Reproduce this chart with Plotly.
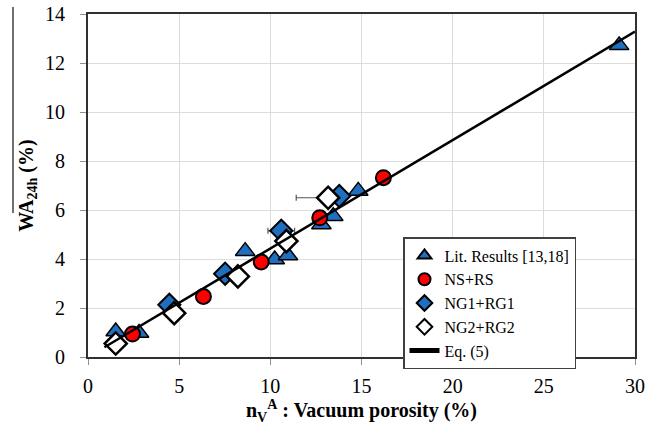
import plotly.graph_objects as go

# Lit. Results [13,18]
lit_x = [1.52, 2.8, 8.62, 10.24, 10.97, 12.8, 13.45, 14.82, 29.13]
lit_y = [1.04, 0.98, 4.32, 3.98, 4.14, 5.41, 5.75, 6.78, 12.72]

# NS+RS
ns_x = [2.44, 6.33, 9.5, 12.71, 16.2]
ns_y = [0.94, 2.47, 3.88, 5.68, 7.32]

# NG1+RG1
ng1_x = [4.46, 7.52, 10.6, 13.78]
ng1_y = [2.13, 3.40, 5.15, 6.57]
ng1_err = [0.28, 0.4, 0.73, 0.0]

# NG2+RG2
ng2_x = [1.52, 4.73, 8.22, 10.88, 13.17]
ng2_y = [0.55, 1.79, 3.29, 4.73, 6.5]
ng2_err_plus = [0.0, 0.0, 0.0, 0.0, 0.0]
ng2_err_minus = [0.0, 0.0, 0.0, 0.0, 1.75]

# Eq. (5)
eq_x = [0.9, 30]
eq_y = [0.4, 13.28]

x_ticks = [0, 5, 10, 15, 20, 25, 30]
y_ticks = [0, 2, 4, 6, 8, 10, 12, 14]

FONT = "Liberation Serif, DejaVu Serif, serif"
BLUE = "#1f6fc0"

ML, MR, MT, MB = 88, 27, 14, 71
PW = 662 - ML - MR
PH = 428 - MT - MB

fig = go.Figure()
fig.add_trace(go.Scatter(
    x=lit_x, y=lit_y, mode="markers", name="Lit. Results [13,18]",
    marker=dict(symbol="triangle-up", size=17, color=BLUE,
                line=dict(color="black", width=1.5))))
fig.add_trace(go.Scatter(
    x=ns_x, y=ns_y, mode="markers", name="NS+RS",
    marker=dict(symbol="circle", size=15, color="#ff0000",
                line=dict(color="black", width=2))))
fig.add_trace(go.Scatter(
    x=ng1_x, y=ng1_y, mode="markers", name="NG1+RG1",
    error_x=dict(type="data", array=ng1_err, color="#555555",
                 thickness=1.2, width=3),
    marker=dict(symbol="diamond", size=17, color=BLUE,
                line=dict(color="black", width=2))))
fig.add_trace(go.Scatter(
    x=ng2_x, y=ng2_y, mode="markers", name="NG2+RG2",
    error_x=dict(type="data", symmetric=False, array=ng2_err_plus,
                 arrayminus=ng2_err_minus, color="#555555",
                 thickness=1.2, width=3),
    marker=dict(symbol="diamond", size=17, color="white",
                line=dict(color="black", width=2.5))))
fig.add_trace(go.Scatter(
    x=eq_x, y=eq_y, mode="lines", name="Eq. (5)",
    line=dict(color="black", width=2.5)))

axis_common = dict(
    showgrid=True, gridcolor="#dcdcdc", gridwidth=1,
    showline=True, linecolor="#303030", linewidth=2, mirror=True,
    ticks="outside", ticklen=6, tickcolor="#909090", tickwidth=1,
    tickfont=dict(family=FONT, size=20, color="black"),
    zeroline=False,
)

fig.update_layout(
    width=662, height=428,
    margin=dict(l=ML, r=MR, t=MT, b=MB, autoexpand=False),
    paper_bgcolor="white", plot_bgcolor="white",
    font=dict(family=FONT, color="black"),
    showlegend=True,
    legend=dict(
        x=(403 - ML) / PW, y=(357 - 237) / PH,
        xanchor="left", yanchor="top",
        bgcolor="white", bordercolor="#404040", borderwidth=1.5,
        font=dict(family=FONT, size=16, color="black"),
        itemsizing="constant", tracegroupgap=0,
    ),
    xaxis=dict(
        range=[0, 30], tickvals=x_ticks, ticklabelstandoff=4,
        title=dict(text="<b>n<sub>V</sub><sup>A</sup> : Vacuum porosity (%)</b>",
                   font=dict(family=FONT, size=20), standoff=6),
        **axis_common),
    yaxis=dict(
        range=[0, 14], tickvals=y_ticks, ticklabelstandoff=11,
        title=dict(text="<b>WA<sub>24h</sub> (%)</b>",
                   font=dict(family=FONT, size=20), standoff=6),
        **axis_common),
    shapes=[dict(type="line", xref="paper", yref="paper",
                 x0=(13 - ML) / PW, x1=(13 - ML) / PW,
                 y0=(357 - 7) / PH, y1=(357 - 213) / PH,
                 line=dict(color="#707070", width=2))],
)

fig.write_html("out.html", config={"displayModeBar": False},
               post_script="document.body.style.margin='0px';")
